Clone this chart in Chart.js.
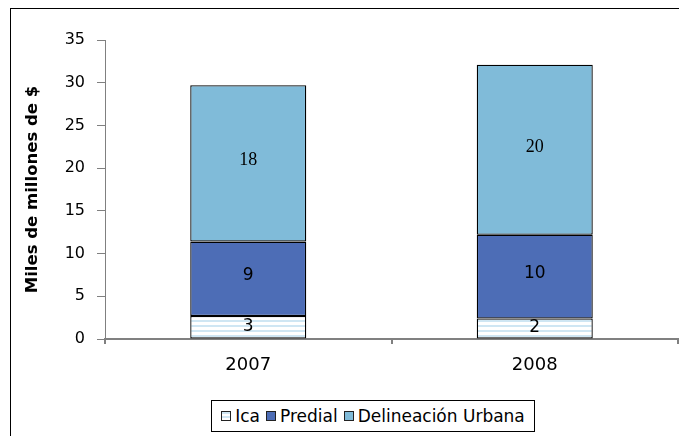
<!DOCTYPE html>
<html>
<head>
<meta charset="utf-8">
<script src="https://cdn.jsdelivr.net/npm/chart.js@4"></script>
<style>
  body { margin: 0; background: #fff; }
  #wrap { position: relative; width: 679px; height: 436px; overflow: hidden; }
  #frame { position: absolute; left: 10px; top: 8px; width: 700px; height: 460px; border: 1px solid #000; box-sizing: border-box; }
  #legend { position: absolute; left: 211px; top: 400px; width: 324px; height: 32px; border: 1px solid #000; box-sizing: border-box;
    display: flex; align-items: center; justify-content: center; font: 17px "DejaVu Sans", sans-serif; color: #000; background: #fff; }
  #legend span.item { display: flex; align-items: center; margin: 0 3px; }
  #legend i { display: inline-block; width: 8px; height: 8px; border: 1px solid #222; margin-right: 4px; }
</style>
</head>
<body>
<div id="wrap">
  <div id="frame"></div>
  <canvas id="chart" width="679" height="436"></canvas>
  <div id="legend"></div>
</div>
<script>
const years = ['2007', '2008'];
const ica = [2.7, 2.4];
const predial = [8.7, 9.8];
const delineacion = [18.3, 19.9];
const yTicks = [0, 5, 10, 15, 20, 25, 30, 35];

// striped fill for Ica
const pc = document.createElement('canvas');
pc.width = 4; pc.height = 5;
const pctx = pc.getContext('2d');
pctx.fillStyle = '#ffffff';
pctx.fillRect(0, 0, 4, 5);
pctx.fillStyle = '#cfe6f3';
pctx.fillRect(0, 0, 4, 2);
const icaPattern = pctx.createPattern(pc, 'repeat');

const colors = { ica: icaPattern, predial: '#4d6db6', delin: '#80bbd9' };

const valueLabels = {
  id: 'valueLabels',
  afterDatasetsDraw(chart) {
    const ctx = chart.ctx;
    ctx.save();
    ctx.fillStyle = '#000';
    ctx.textAlign = 'center';
    ctx.textBaseline = 'middle';
    chart.data.datasets.forEach((ds, i) => {
      const meta = chart.getDatasetMeta(i);
      ctx.font = i === 2 ? '18px "Liberation Serif", "Times New Roman", serif' : '17px "DejaVu Sans", sans-serif';
      meta.data.forEach((el, j) => {
        const y = (el.y + el.base) / 2 - (i === 0 ? 1 : 3);
        ctx.fillText(Math.round(ds.data[j]), el.x, y);
      });
    });
    ctx.restore();
  }
};

new Chart(document.getElementById('chart').getContext('2d'), {
  type: 'bar',
  data: {
    labels: years,
    datasets: [
      { label: 'Ica', data: ica, backgroundColor: colors.ica },
      { label: 'Predial', data: predial, backgroundColor: colors.predial },
      { label: 'Delineación Urbana', data: delineacion, backgroundColor: colors.delin }
    ].map(d => Object.assign(d, { borderColor: '#000', borderWidth: 1.3, borderSkipped: false, barPercentage: 0.405, categoryPercentage: 1 }))
  },
  options: {
    responsive: false,
    animation: false,
    layout: { padding: { left: 0, right: 1, top: 40, bottom: 0 } },
    plugins: { legend: { display: false }, tooltip: { enabled: false } },
    scales: {
      x: {
        stacked: true,
        grid: { drawOnChartArea: false, drawTicks: true, tickLength: 5, color: '#808080', lineWidth: 2 },
        border: { color: '#808080', width: 2 },
        ticks: { color: '#000', padding: 11, font: { size: 18, family: '"DejaVu Sans", sans-serif' } },
        afterFit(s) { s.height = 97; }
      },
      y: {
        stacked: true,
        min: 0, max: 35,
        afterBuildTicks(s) { s.ticks = yTicks.map(v => ({ value: v })); },
        grid: { drawOnChartArea: false, drawTicks: true, tickLength: 8, color: '#808080' },
        border: { color: '#808080' },
        ticks: { color: '#000', padding: 12, font: { size: 16, family: '"DejaVu Sans", sans-serif' } },
        title: { display: true, text: 'Miles de millones de $', color: '#000', padding: { top: 23, bottom: 0 },
          font: { size: 16.5, weight: 'bold', family: '"DejaVu Sans", sans-serif' } },
        afterFit(s) { s.width = 105; }
      }
    }
  },
  plugins: [valueLabels]
});

const legend = document.getElementById('legend');
[['Ica', 'repeating-linear-gradient(#cfe6f3 0 2px, #fff 2px 4px)'], ['Predial', colors.predial], ['Delineación Urbana', colors.delin]].forEach(([name, bg]) => {
  const item = document.createElement('span');
  item.className = 'item';
  const sw = document.createElement('i');
  sw.style.background = bg;
  item.appendChild(sw);
  item.appendChild(document.createTextNode(name));
  legend.appendChild(item);
});
</script>
</body>
</html>
